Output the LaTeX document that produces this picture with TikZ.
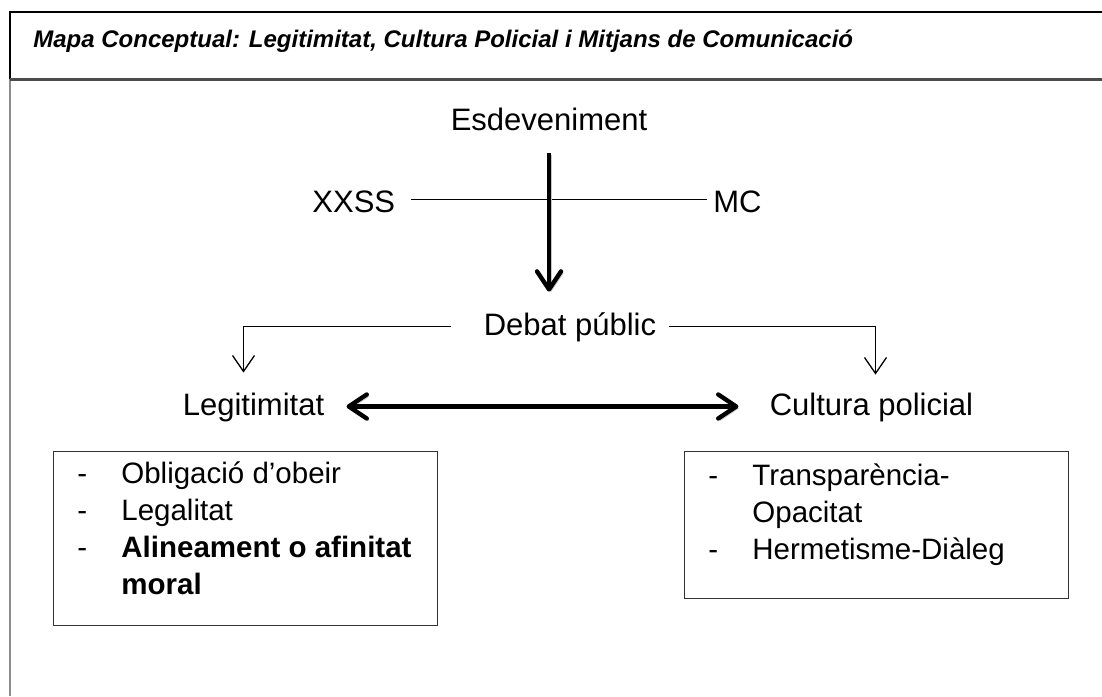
\documentclass[tikz,border=0pt]{standalone}
\usepackage{fontspec}
\setmainfont{Liberation Sans}
\usetikzlibrary{arrows.meta}

\newcommand\txttitle{\fontsize{12}{14}\selectfont\bfseries\itshape}
\newcommand\txtbody{\fontsize{15.5}{18}\selectfont}
\newcommand\txtbox{\fontsize{14.75}{18.5}\selectfont}

\begin{document}
\begin{tikzpicture}[x=0.5pt,y=-0.5pt,
    lbl/.style={inner sep=0pt,text height=11.5pt,text depth=3pt,font=\txtbody},
    thinline/.style={line width=0.65pt},
    thinarrow/.style={line width=0.65pt,-{Straight Barb[length=8pt,width=11pt]}},
    shade/.style={preaction={draw=black!22,transform canvas={xshift=1pt,yshift=-1pt}}},
    bigarrow/.style={shade,line width=2.2pt,-{Straight Barb[length=9pt,width=12pt,round]}},
    bigboth/.style={shade,line width=2.2pt,{Straight Barb[length=9pt,width=12pt,round]}-{Straight Barb[length=9pt,width=12pt,round]}},
    listbox/.style={draw=black!80,line width=0.65pt,inner sep=0pt,minimum width=192pt},
    items/.style={inner sep=0pt,font=\txtbox}]
  % \draw[help lines] (0,0) grid[step=50] (1102,696);
  \useasboundingbox (0,0) rectangle (1102,696);

  % marc
  \draw[line width=1pt] (10,79) |- (1102,12);
  \draw[line width=0.75pt,black!45] (10,79) -- (10,696);
  \draw[line width=1.5pt,black!70] (10,79) -- (1102,79);
  \draw (33,47) node[anchor=base west,inner sep=0pt,font=\txttitle] (titol) {Mapa Conceptual: Legitimitat, Cultura Policial i Mitjans de Comunicació};

  \draw (549,130) node[lbl,anchor=base] (esdev) {Esdeveniment};
  \draw (312,212) node[lbl,anchor=base west] (xxss) {XXSS};
  \draw (713,212) node[lbl,anchor=base west] (mc) {MC};
  \draw (570,335) node[lbl,anchor=base] (debat) {Debat públic};
  \draw (253.5,415) node[lbl,anchor=base] (legit) {Legitimitat};
  \draw (871.5,415) node[lbl,anchor=base] (cultura) {Cultura policial};

  \draw[thinline,shorten <=7.5pt,shorten >=3pt] ([yshift=2pt]xxss.east) -- ([yshift=2pt]mc.west);
  \draw[bigarrow,shorten <=8.5pt,shorten >=10pt] (esdev.south) -- (esdev.south |- debat.north);

  \draw[thinarrow,shorten <=16pt,shorten >=9.5pt] (debat.west) -| ([xshift=-5pt]legit.north);
  \draw[thinarrow,shorten <=6pt,shorten >=8.5pt] (debat.east) -| ([xshift=2pt]cultura.north);
  \draw[bigboth,shorten <=11pt,shorten >=15.5pt] (legit.east) -- (cultura.west);

  % caixes
  \draw (53,451) node[listbox,anchor=north west,minimum height=87pt] (legitbox) {};
  \draw (77,483) node[items,anchor=base west] (legititems) {\begin{tabular}[t]{@{}p{22pt}@{}l@{}}
    -&Obligació d’obeir\\
    -&Legalitat\\
    -&\textbf{Alineament o afinitat}\\
     &\textbf{moral}
  \end{tabular}};
  \draw (684,451) node[listbox,anchor=north west,minimum height=73.5pt] (culturabox) {};
  \draw (708,485) node[items,anchor=base west] (culturaitems) {\begin{tabular}[t]{@{}p{22pt}@{}l@{}}
    -&Transparència-\\
     &Opacitat\\
    -&Hermetisme-Diàleg
  \end{tabular}};
\end{tikzpicture}
\end{document}
